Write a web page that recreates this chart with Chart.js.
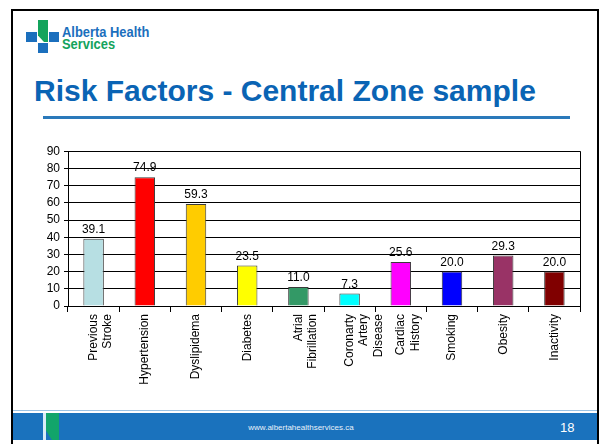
<!DOCTYPE html>
<html>
<head>
<meta charset="utf-8">
<script src="https://cdn.jsdelivr.net/npm/chart.js@4.4.1/dist/chart.umd.min.js"></script>
<style>
  html, body { margin: 0; padding: 0; background: #fff; }
  body { width: 602px; height: 444px; position: relative; overflow: hidden; font-family: "Liberation Sans", Arial, sans-serif; }
  #frame { position: absolute; left: 11px; top: 9px; width: 584px; height: 440px; border: 2px solid #000; border-bottom: none; }
  .sq { position: absolute; }
  #brand1, #brand2 { position: absolute; font-weight: bold; font-size: 15px; transform: scaleX(0.86); transform-origin: left top; white-space: nowrap; line-height: 15px; }
  #brand1 { left: 62px; top: 24px; color: #1b6fbd; }
  #brand2 { left: 62px; top: 36px; color: #13a35c; }
  #title { position: absolute; left: 34px; top: 74px; font-size: 30px; font-weight: bold; color: #0a64b4; white-space: nowrap; line-height: 34px; }
  #rule { position: absolute; left: 43px; top: 116px; width: 527px; height: 3px; background: #2a79ba; }
  #chartBox { position: absolute; left: 20px; top: 140px; width: 572px; height: 262px; }
  #footLine { position: absolute; left: 13px; top: 410px; width: 584px; height: 1px; background: #9cc3e4; }
  #foot { position: absolute; left: 13px; top: 413px; width: 584px; height: 27px; background: #1a72bd; }
  #footGreen { position: absolute; left: 46px; top: 413px; width: 13px; height: 27px; background: #12a56a; clip-path: polygon(0 0, 100% 0, 100% 100%, 45% 100%, 0 65%); }
  #footGap { position: absolute; left: 43px; top: 413px; width: 3px; height: 27px; background: #d9ecf7; }
  #url { position: absolute; left: 0; width: 602px; top: 423px; text-align: center; font-size: 8px; color: #e8f1fa; }
  #page { position: absolute; left: 560px; top: 420px; font-size: 13px; color: #fff; }
</style>
</head>
<body>
<div id="frame"></div>
<div class="sq" style="left:26px;top:32px;width:11px;height:10px;background:#1b6fbd"></div>
<div class="sq" style="left:38px;top:20px;width:10px;height:22px;background:#13a35c;clip-path:polygon(0 0,100% 0,100% 100%,60% 100%,0 70%)"></div>
<div class="sq" style="left:49px;top:32px;width:10px;height:10px;background:#1b6fbd"></div>
<div class="sq" style="left:38px;top:43px;width:10px;height:10px;background:#1b6fbd"></div>
<div id="brand1">Alberta Health</div>
<div id="brand2">Services</div>
<div id="title">Risk Factors - Central Zone sample</div>
<div id="rule"></div>
<div id="chartBox"><canvas id="myChart"></canvas></div>
<div id="footLine"></div>
<div id="foot"></div>
<div id="footGap"></div>
<div id="footGreen"></div>
<div id="url">www.albertahealthservices.ca</div>
<div id="page">18</div>

<script>
// chart values
const categories = [
    ['Previous', 'Stroke'],
    'Hypertension',
    'Dyslipidema',
    'Diabetes',
    ['Atrial', 'Fibrillation'],
    ['Coronarty', 'Artery', 'Disease'],
    ['Cardiac', 'History'],
    'Smoking',
    'Obesity',
    'Inactivity'
]
const percentages = [39.1, 74.9, 59.3, 23.5, 11.0, 7.3, 25.6, 20.0, 29.3, 20.0]
const barColors = ['#b7dfe3', '#ff0000', '#ffcc00', '#ffff00', '#339966', '#00ffff', '#ff00ff', '#0000ff', '#993366', '#800000']
const yMin = 0
const yMax = 90
const yStep = 10

// values above the bars
const barLabels = {
    id: 'barLabels',
    afterDatasetsDraw(chart) {
        const ctx = chart.ctx
        const meta = chart.getDatasetMeta(0)
        ctx.save()
        ctx.font = '12px "Liberation Sans", Arial, sans-serif'
        ctx.fillStyle = '#000'
        ctx.textAlign = 'center'
        ctx.textBaseline = 'bottom'
        meta.data.forEach((bar, i) => {
            ctx.fillText(percentages[i].toFixed(1), bar.x, bar.y - 3)
        })
        ctx.restore()
    }
}

// right edge of plot box
const plotBorder = {
    id: 'plotBorder',
    afterDraw(chart) {
        const a = chart.chartArea
        const ctx = chart.ctx
        ctx.save()
        ctx.strokeStyle = '#000'
        ctx.lineWidth = 1
        ctx.beginPath()
        ctx.moveTo(Math.round(a.right) + 0.5, a.top)
        ctx.lineTo(Math.round(a.right) + 0.5, a.bottom)
        ctx.stroke()
        ctx.restore()
    }
}

const dataChart = {
    labels: categories,
    datasets: [{
        data: percentages,
        backgroundColor: barColors,
        borderColor: '#3a3a3a',
        borderWidth: 1,
        barPercentage: 0.4,
        categoryPercentage: 1
    }]
}

const config = {
    type: 'bar',
    data: dataChart,
    options: {
        responsive: true,
        maintainAspectRatio: false,
        animation: false,
        layout: { padding: { top: 7, right: 12, left: 0, bottom: 0 } },
        plugins: { legend: { display: false }, tooltip: { enabled: false } },
        scales: {
            x: {
                offset: true,
                grid: { display: true, drawOnChartArea: false, drawTicks: true, tickLength: 6, color: '#000', offset: true },
                border: { display: true, color: '#000', width: 1 },
                ticks: {
                    minRotation: 90, maxRotation: 90, autoSkip: false, padding: 2,
                    color: '#000',
                    font: { family: '"Liberation Sans", Arial, sans-serif', size: 12, lineHeight: 1.2 }
                },
                afterFit(scale) { scale.height = 96 }
            },
            y: {
                min: yMin, max: yMax,
                grid: { color: '#000', lineWidth: 1, tickLength: 4 },
                border: { display: true, color: '#000', width: 1 },
                ticks: {
                    stepSize: yStep, autoSkip: false,
                    color: '#000', padding: 4,
                    font: { family: '"Liberation Sans", Arial, sans-serif', size: 12 }
                },
                afterFit(scale) { scale.width = 48 }
            }
        }
    },
    plugins: [barLabels, plotBorder]
}

const myChart = new Chart(document.getElementById('myChart'), config)
</script>
</body>
</html>
